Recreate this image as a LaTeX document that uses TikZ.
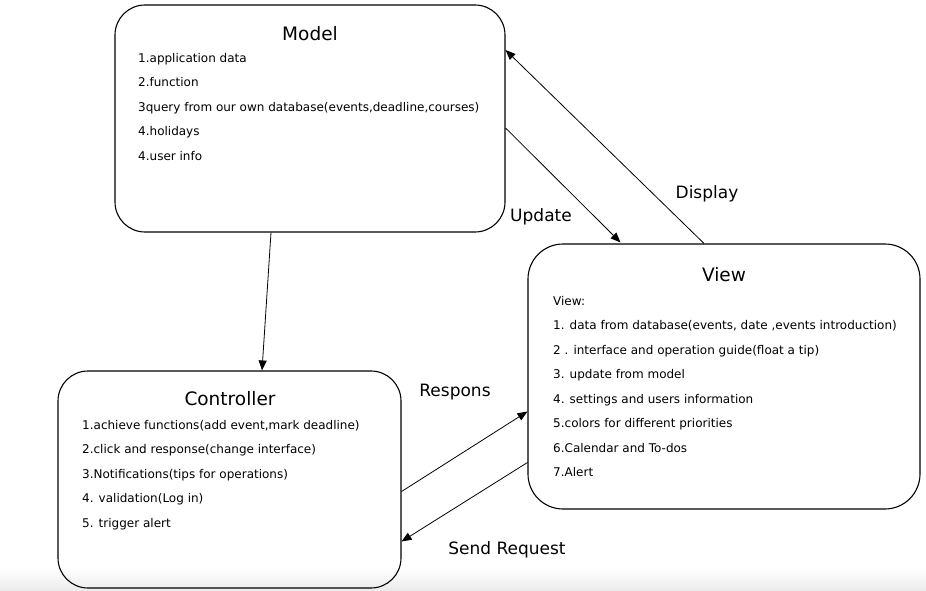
\documentclass[tikz,border=0pt]{standalone}
\usepackage{fontspec}
\setmainfont{DejaVu Sans}
\usetikzlibrary{arrows.meta,positioning,calc}

\begin{document}
\begin{tikzpicture}[
  x=1pt, y=-1pt,
  >={Triangle[length=10pt,width=8pt]},
  part/.style={draw, line width=1.1pt, rounded corners=30pt, inner sep=0pt},
  title/.style={font=\fontsize{18.5}{22}\selectfont, inner sep=0pt},
  items/.style={font=\fontsize{12}{24.5}\selectfont, align=left, anchor=north west, inner sep=0pt},
  lbl/.style={font=\fontsize{17}{20}\selectfont, inner sep=0pt},
  flow/.style={->, line width=0.8pt}
]
\useasboundingbox (0,0) rectangle (926,591);
\shade[top color=white, bottom color=black!8] (0,568) rectangle (926,591);

\node[part, minimum width=390pt, minimum height=227pt] (model) at (310,118.5) {};
\node[part, minimum width=392pt, minimum height=265pt, rounded corners=35pt] (view) at (724,376.5) {};
\node[part, minimum width=343pt, minimum height=217pt] (controller) at (229.5,479.5) {};

\node[title] (modeltitle) at (310,34) {Model};
\node[items] (modelitems) at (138,53) {1.application data\\2.function\\3query from our own database(events,deadline,courses)\\4.holidays\\4.user info};

\node[title] (viewtitle) at (724,275) {View};
\node[items] (viewitems) at (553,296) {View:\\1. data from database(events, date ,events introduction)\\2 . interface and operation guide(float a tip)\\3. update from model\\4. settings and users information\\5.colors for different priorities\\6.Calendar and To-dos\\7.Alert};

\node[title] (controllertitle) at (230,399) {Controller};
\node[items] (controlleritems) at (82,420) {1.achieve functions(add event,mark deadline)\\2.click and response(change interface)\\3.Notifications(tips for operations)\\4. validation(Log in)\\5. trigger alert};

\draw[flow] ($(model.south)+(-39,0)$) -- ($(controller.north)+(32.5,0)$);
\draw[flow] ($(model.east)+(0,9.5)$) -- ($(view.north)+(-103.5,-1)$);
\draw[flow] ($(view.north)+(-20,0)$) -- ($(model.east)+(0,-68.5)$);
\draw[flow] ($(controller.east)+(0,12)$) -- ($(view.west)+(0,35)$);
\draw[flow] ($(view.west)+(0,86)$) -- ($(controller.east)+(0,62)$);

\node[lbl] (update) at (541,217) {Update};
\node[lbl] (display) at (707,194) {Display};
\node[lbl] (respons) at (455,392) {Respons};
\node[lbl] (sendrequest) at (507,550) {Send Request};

\end{tikzpicture}
\end{document}
